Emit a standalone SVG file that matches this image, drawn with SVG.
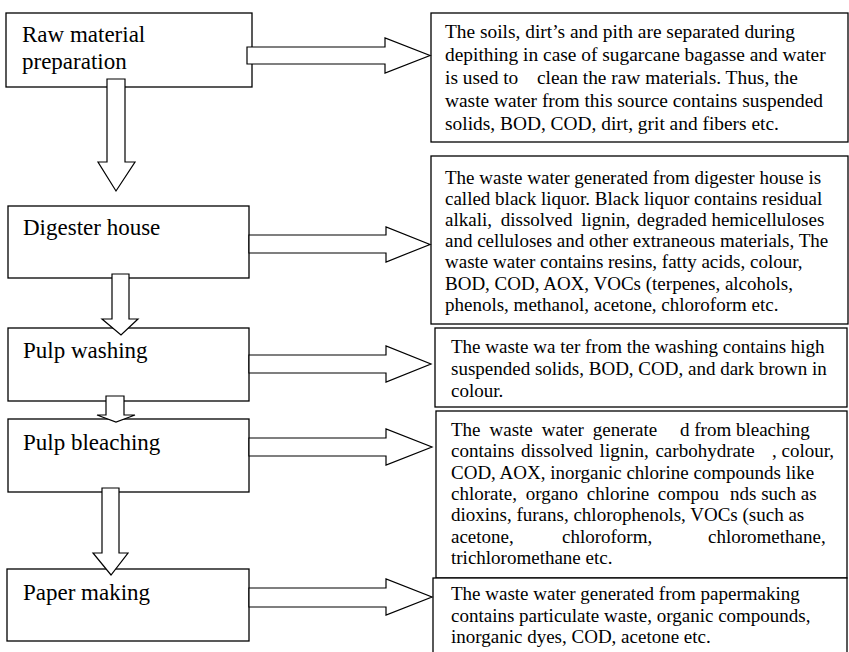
<svg xmlns="http://www.w3.org/2000/svg" width="849" height="652" viewBox="0 0 849 652">
<style>
.box{fill:#fff;stroke:#000;stroke-width:1.3}
.arr{fill:#fff;stroke:#000;stroke-width:1.2;stroke-linejoin:miter}
.lbl{font-family:"Liberation Serif","Times New Roman",serif;font-size:23px;fill:#000}
.desc{font-family:"Liberation Serif","Times New Roman",serif;font-size:19px;fill:#000}
.d1{font-size:19.4px}
</style>
<rect width="849" height="652" fill="#fff"/>
<g id="desc-raw">
<rect class="box" x="431" y="13" width="417" height="129"/>
<text class="desc d1" xml:space="preserve"><tspan x="445" y="37.5">The soils, dirt’s and pith are separated during</tspan><tspan x="445" y="60.7">depithing in case of sugarcane bagasse and water</tspan><tspan x="445" y="83.7">is used to</tspan><tspan x="537" y="83.7">clean the raw materials. Thus, the</tspan><tspan x="445" y="106.7">waste water from this source contains suspended</tspan><tspan x="445" y="129.5">solids, BOD, COD, dirt, grit and fibers etc.</tspan></text>
</g>
<g id="desc-digester">
<rect class="box" x="431" y="156" width="417" height="168"/>
<text class="desc" xml:space="preserve"><tspan x="445" y="183.5">The waste water generated from digester house is</tspan><tspan x="445" y="204.7">called black liquor. Black liquor contains residual</tspan><tspan x="445" y="225.9" word-spacing="4">alkali, dissolved lignin,</tspan><tspan x="637" y="225.9">degraded hemicelluloses</tspan><tspan x="445" y="247.1">and celluloses and other extraneous materials, The</tspan><tspan x="445" y="268.3">waste water contains resins, fatty acids, colour,</tspan><tspan x="445" y="289.5">BOD, COD, AOX, VOCs (terpenes, alcohols,</tspan><tspan x="445" y="310.7">phenols, methanol, acetone, chloroform etc.</tspan></text>
</g>
<g id="desc-washing">
<rect class="box" x="435" y="328" width="412" height="79"/>
<text class="desc" xml:space="preserve"><tspan x="451" y="353">The waste wa ter from the washing contains high</tspan><tspan x="451" y="375">suspended solids, BOD, COD, and dark brown in</tspan><tspan x="451" y="396.5">colour.</tspan></text>
</g>
<g id="desc-bleaching">
<rect class="box" x="436" y="411" width="411" height="167"/>
<text class="desc" xml:space="preserve"><tspan x="451" y="436" word-spacing="4.2">The waste water generate</tspan><tspan x="680" y="436">d from bleaching</tspan><tspan x="451" y="457.3" word-spacing="2">contains dissolved lignin, carbohydrate</tspan><tspan x="772" y="457.3">, colour,</tspan><tspan x="451" y="478.6">COD, AOX, inorganic chlorine compounds like</tspan><tspan x="451" y="499.9" word-spacing="4">chlorate, organo chlorine compou</tspan><tspan x="730" y="499.9">nds such as</tspan><tspan x="451" y="521.2">dioxins, furans, chlorophenols, VOCs (such as</tspan><tspan x="451" y="542.5">acetone,</tspan><tspan x="562" y="542.5">chloroform,</tspan><tspan x="708" y="542.5">chloromethane,</tspan><tspan x="451" y="563.8">trichloromethane etc.</tspan></text>
</g>
<g id="desc-paper">
<rect class="box" x="433" y="578" width="414" height="90"/>
<text class="desc" xml:space="preserve"><tspan x="451" y="600">The waste water generated from papermaking</tspan><tspan x="451" y="621.5">contains particulate waste, organic compounds,</tspan><tspan x="451" y="643">inorganic dyes, COD, acetone etc.</tspan></text>
</g>
<g id="raw-material">
<rect class="box" x="6" y="13" width="246" height="74"/>
<text class="lbl"><tspan x="22" y="42">Raw material</tspan><tspan x="22" y="68.5">preparation</tspan></text>
</g>
<g id="digester-house">
<rect class="box" x="8" y="206" width="241" height="72"/>
<text class="lbl" x="23" y="235">Digester house</text>
</g>
<g id="pulp-washing">
<rect class="box" x="8" y="328" width="241" height="73"/>
<text class="lbl" x="23" y="358">Pulp washing</text>
</g>
<g id="pulp-bleaching">
<rect class="box" x="8" y="419" width="241" height="73"/>
<text class="lbl" x="23" y="450">Pulp bleaching</text>
</g>
<g id="paper-making">
<rect class="box" x="7" y="569" width="242" height="72"/>
<text class="lbl" x="23" y="600">Paper making</text>
</g>
<g id="connectors">
<polygon class="arr" points="247,47 385,47 385,38 430,55.5 385,73 385,64 247,64"/>
<polygon class="arr" points="107,79 125,79 125,162 135,162 116,191 98,162 107,162"/>
<polygon class="arr" points="249,235 386,235 386,227 430,244.5 386,262 386,253 249,253"/>
<polygon class="arr" points="112,274 129,274 129,319 138,319 121,335 102,319 112,319"/>
<polygon class="arr" points="249,355 386,355 386,346 431,364 386,382 386,373 249,373"/>
<polygon class="arr" points="106,396 124,396 124,415 135,415 116,422 97,415 106,415"/>
<polygon class="arr" points="249,438 386,438 386,429 432,447 386,465 386,456 249,456"/>
<polygon class="arr" points="102,488 119,488 119,553 128,553 111,575 93,553 102,553"/>
<polygon class="arr" points="249,588 386,588 386,579 432,597 386,615 386,607 249,607"/>
</g>
</svg>
